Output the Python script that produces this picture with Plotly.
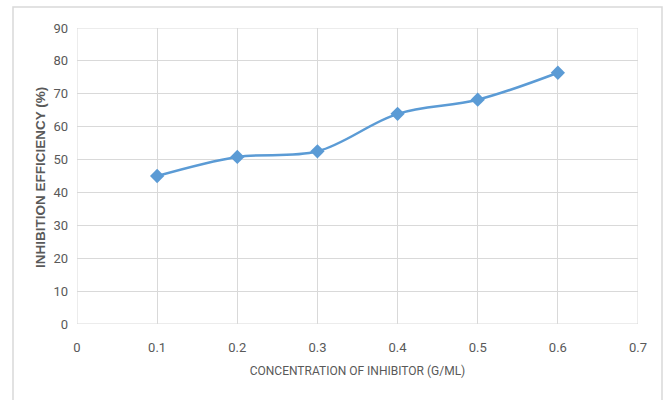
import plotly.graph_objects as go

# Inhibitor concentration (g/mL) and measured inhibition efficiency (%)
concentration = [0.1, 0.2, 0.3, 0.4, 0.5, 0.6]
efficiency = [45.0, 50.8, 52.5, 63.9, 68.2, 76.4]

x_ticks = [0, 0.1, 0.2, 0.3, 0.4, 0.5, 0.6, 0.7]
x_tick_text = ["0", "0.1", "0.2", "0.3", "0.4", "0.5", "0.6", "0.7"]
y_ticks = [0, 10, 20, 30, 40, 50, 60, 70, 80, 90]

line_blue = "#5B9BD5"
grid_grey = "#D9D9D9"
label_grey = "#595959"
narrow_font = "Liberation Sans Narrow, Arial Narrow, Roboto, sans-serif"

fig = go.Figure()
fig.add_trace(go.Scatter(
    x=concentration,
    y=efficiency,
    mode="lines+markers",
    line=dict(color=line_blue, width=2.5, shape="spline", smoothing=1.0),
    marker=dict(symbol="diamond", size=11, color=line_blue),
    showlegend=False,
))

fig.update_layout(
    width=665,
    height=400,
    margin=dict(l=77, r=27, t=28, b=76),
    paper_bgcolor="white",
    plot_bgcolor="white",
    xaxis=dict(
        range=[0, 0.7],
        tickvals=x_ticks,
        ticktext=x_tick_text,
        showgrid=True,
        gridcolor=grid_grey,
        gridwidth=1,
        zeroline=False,
        showline=False,
        ticks="",
        ticklabelstandoff=14,
        tickfont=dict(family=narrow_font, size=13, color=label_grey),
        title=dict(
            text="CONCENTRATION OF INHIBITOR (G/ML)",
            font=dict(family=narrow_font, size=12, color=label_grey),
            standoff=12,
        ),
    ),
    yaxis=dict(
        range=[0, 90],
        tickvals=y_ticks,
        showgrid=True,
        gridcolor=grid_grey,
        gridwidth=1,
        zeroline=False,
        showline=False,
        ticks="",
        ticklabelstandoff=8,
        tickfont=dict(family=narrow_font, size=13, color=label_grey),
    ),
    annotations=[dict(
        text="INHIBITION EFFICIENCY (%)",
        textangle=-90,
        xref="paper", yref="paper",
        x=(40 - 77) / 561, y=(324 - 178) / 296,
        xanchor="center", yanchor="middle",
        showarrow=False,
        font=dict(family="Liberation Sans, Arial, sans-serif", size=13.5, color=label_grey, weight="bold"),
    )],
    shapes=[
        # outer chart frame
        dict(type="rect", xref="paper", yref="paper",
             x0=(13 - 77) / 561, x1=(662 - 77) / 561,
             y0=(324 - 410) / 296, y1=(324 - 7) / 296,
             line=dict(color=grid_grey, width=1.5), fillcolor="rgba(0,0,0,0)", layer="below"),
        # plot area outline
        dict(type="rect", xref="x", yref="y", x0=0, x1=0.7, y0=0, y1=90,
             line=dict(color=grid_grey, width=1), layer="below"),
    ],
)

fig.write_html("out.html")
